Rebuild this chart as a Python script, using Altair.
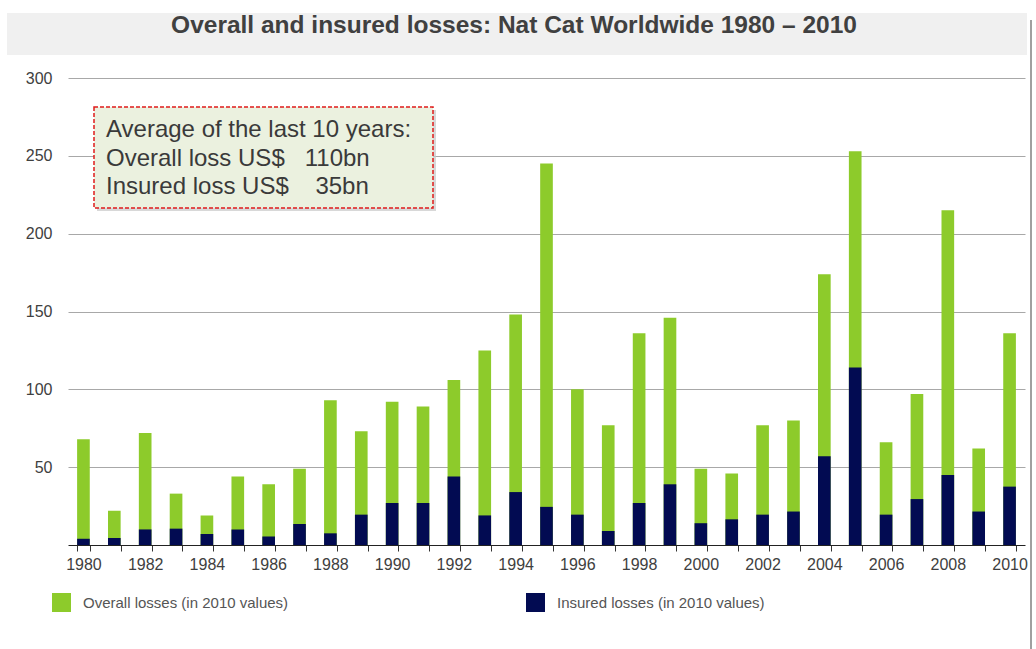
import altair as alt
import pandas as pd

# Nat Cat losses worldwide, US$ bn in 2010 values
years = list(range(1980, 2011))
overall = [68, 22, 72, 33, 19, 44, 39, 49, 93, 73, 92, 89, 106, 125, 148, 245,
           100, 77, 136, 146, 49, 46, 77, 80, 174, 253, 66, 97, 215, 62, 136]
insured = [4, 4.5, 10, 10.5, 7, 10, 5.5, 13.5, 7.5, 19.5, 27, 27, 44, 19, 34, 24.5,
           19.5, 9, 27, 39, 14, 16.5, 19.5, 21.5, 57, 114, 19.5, 29.5, 45, 21.5, 37.5]

series_names = ["Overall losses (in 2010 values)", "Insured losses (in 2010 values)"]
series_colors = ["#8dcb2b", "#020b52"]

title_text = "Overall and insured losses: Nat Cat Worldwide 1980 \u2013 2010"
NB = "\u00a0"
note_lines = ["Average of the last 10 years:",
              f"Overall loss US${NB}{NB} 110bn",
              f"Insured loss US${NB}{NB}{NB} 35bn"]

df = pd.DataFrame({"year": years,
                   series_names[0]: overall,
                   series_names[1]: insured})

W, H = 957, 467
FONT = "Liberation Sans"

bars = (
    alt.Chart(df)
    .transform_fold(series_names, as_=["series", "loss"])
    .transform_calculate(series_order=f"datum.series == '{series_names[0]}' ? 0 : 1")
    .mark_bar()
    .encode(
        x=alt.X("year:O", title=None,
                scale=alt.Scale(paddingInner=0.59, paddingOuter=0.295),
                axis=alt.Axis(labelExpr="datum.value % 2 == 0 ? datum.label : ''",
                              labelAngle=0, labelOverlap=False,
                              labelFontSize=16, labelColor="#404040", labelFont=FONT,
                              labelPadding=5, tickBand="extent", tickSize=6,
                              tickColor="#333333", domainColor="#222222",
                              domainWidth=1)),
        y=alt.Y("loss:Q", stack=None, title=None,
                scale=alt.Scale(domain=[0, 300], nice=False),
                axis=alt.Axis(values=[50, 100, 150, 200, 250, 300], domain=False,
                              ticks=False, labelFontSize=16, labelColor="#404040",
                              labelFont=FONT, labelPadding=16, gridColor="#a8a8a8",
                              gridWidth=1)),
        color=alt.Color("series:N",
                        scale=alt.Scale(domain=series_names, range=series_colors),
                        legend=alt.Legend(title=None, orient="none", legendX=-16,
                                          legendY=515, direction="horizontal",
                                          symbolType="square", symbolSize=361,
                                          symbolStrokeWidth=0, symbolOpacity=1,
                                          labelFontSize=15, labelColor="#555555",
                                          labelFont=FONT, labelOffset=12,
                                          labelLimit=400, columnPadding=237,
                                          gridAlign="each")),
        order=alt.Order("series_order:Q"),
    )
)

one = pd.DataFrame({"k": [0]})

title_band = alt.Chart(one).mark_rect(color="#f0f0f0").encode(
    x=alt.value(-61), x2=alt.value(959), y=alt.value(-65), y2=alt.value(-23))

title = alt.Chart(one).mark_text(
    text=title_text, font=FONT, fontSize=24.5, fontWeight="bold", color="#404040",
    align="center", baseline="middle").encode(x=alt.value(446), y=alt.value(-52))

frame_edge = alt.Chart(one).mark_rule(color="#a0a0a0", strokeWidth=2).encode(
    x=alt.value(963), y=alt.value(-58), y2=alt.value(575))

note_shadow = alt.Chart(one).mark_rect(color="#c8c8c8", opacity=0.7).encode(
    x=alt.value(29), x2=alt.value(368), y=alt.value(32), y2=alt.value(133))

note_box = alt.Chart(one).mark_rect(
    fill="#ebf1df", stroke="#e01b1b", strokeWidth=1.5, strokeDash=[4, 2]).encode(
    x=alt.value(26), x2=alt.value(365), y=alt.value(29), y2=alt.value(130))

note_text = alt.Chart(one).mark_text(
    font=FONT, fontSize=24, color="#3a3a3a", align="left", baseline="middle",
    lineHeight=28.5).encode(
    text=alt.value(note_lines), x=alt.value(38), y=alt.value(52))

chart = (
    alt.layer(title_band, title, frame_edge, bars, note_shadow, note_box, note_text)
    .properties(width=W, height=H, background="white",
                padding={"left": 68, "top": 78, "right": 11, "bottom": 104},
                autosize=alt.AutoSizeParams(type="none"))
    .configure_view(strokeWidth=0)
)

chart.save("out.html", embed_options={"renderer": "svg", "actions": False})
